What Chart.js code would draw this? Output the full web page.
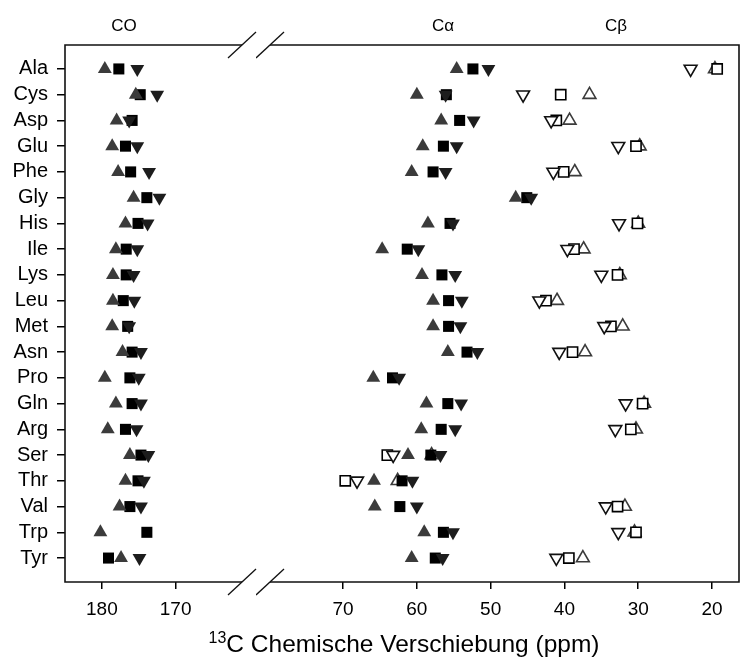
<!DOCTYPE html>
<html>
<head>
<meta charset="utf-8">
<script src="https://cdn.jsdelivr.net/npm/chart.js@4"></script>
<style>
  html, body { margin: 0; padding: 0; background: #fff; }
  #wrap { position: relative; width: 740px; height: 670px; overflow: hidden; }
  #cl { position: absolute; left: 0; top: 0; }
  #cr { position: absolute; left: 256px; top: 0; }
</style>
</head>
<body>
<div id="wrap">
  <canvas id="cl" width="740" height="670"></canvas>
  <canvas id="cr" width="484" height="670"></canvas>
</div>
<script>
// residues, top to bottom
const residues = ["Ala","Cys","Asp","Glu","Phe","Gly","His","Ile","Lys","Leu",
                  "Met","Asn","Pro","Gln","Arg","Ser","Thr","Val","Trp","Tyr"];

// CO shifts (ppm)
const coUp   = [179.6,175.4,178.0,178.6,177.8,175.7,176.8,178.1,178.5,178.5,
                178.6,177.2,179.6,178.1,179.2,176.2,176.8,177.6,180.2,177.4];
const coSq   = [177.7,174.8,175.9,176.8,176.1,173.9,175.1,176.7,176.7,177.1,
                176.5,175.9,176.2,175.9,176.8,174.7,175.1,176.2,173.9,179.1];
const coDown = [175.2,172.5,176.3,175.2,173.6,172.2,173.8,175.2,175.7,175.6,
                176.3,174.7,175.0,174.7,175.3,173.7,174.3,174.7,null,174.9];

// C-alpha shifts (ppm)
const caUp   = [54.6,60.0,56.7,59.2,60.7,46.6,58.5,64.7,59.3,57.8,
                57.8,55.8,65.9,58.7,59.4,61.2,65.8,65.7,59.0,60.7];
const caSq   = [52.4,56.0,54.2,56.4,57.8,45.1,55.5,61.3,56.6,55.7,
                55.7,53.2,63.3,55.8,56.7,58.1,62.0,62.3,56.4,57.5];
const caDown = [50.3,56.1,52.3,54.6,56.1,44.5,55.1,59.8,54.8,53.9,
                54.1,51.8,62.4,54.0,54.8,56.8,60.6,60.0,55.1,56.5];

// C-beta shifts (ppm)
const cbUp   = [19.6,36.6,39.3,29.8,38.6,null,30.0,37.4,32.5,41.0,
                32.1,37.2,null,29.2,30.3,58.0,62.6,31.8,30.5,37.5];
const cbSq   = [19.3,40.5,41.1,30.3,40.1,null,30.1,38.7,32.8,42.5,
                33.7,38.9,null,29.4,31.0,64.0,69.7,32.8,30.3,39.4];
const cbDown = [22.9,45.6,41.8,32.7,41.5,null,32.6,39.6,35.0,43.4,
                34.6,40.7,null,31.7,33.1,63.2,68.1,34.4,32.7,41.1];

const ticksCO    = [180, 170];
const ticksShift = [70, 60, 50, 40, 30, 20];

Chart.defaults.font.family = "'Liberation Sans', Arial, sans-serif";
Chart.defaults.color = "#000";
Chart.defaults.animation = false;

const FONT = "'Liberation Sans', Arial, sans-serif";

function pts(vals) {
  return vals.map((v, i) => v == null ? null : { x: v, y: i }).filter(Boolean);
}

// marker styles
const upFill   = { pointStyle: "triangle", pointRadius: 8, pointBackgroundColor: "#3b3b3b", pointBorderWidth: 0 };
const downFill = { pointStyle: "triangle", pointRotation: 180, pointRadius: 8, pointBackgroundColor: "#1d1d1d", pointBorderWidth: 0 };
const sqFill   = { pointStyle: "rect", pointRadius: 7.8, pointBackgroundColor: "#000", pointBorderWidth: 0 };
const upOpen   = { pointStyle: "triangle", pointRadius: 7.4, pointBackgroundColor: "#fff", pointBorderColor: "#3b3b3b", pointBorderWidth: 1.6 };
const downOpen = { pointStyle: "triangle", pointRotation: 180, pointRadius: 7.4, pointBackgroundColor: "#fff", pointBorderColor: "#111", pointBorderWidth: 1.6 };
const sqOpen   = { pointStyle: "rect", pointRadius: 7.2, pointBackgroundColor: "#fff", pointBorderColor: "#000", pointBorderWidth: 1.6 };

function ds(vals, style) {
  return Object.assign({ data: pts(vals), showLine: false, pointHoverRadius: style.pointRadius }, style);
}

function slash(ctx, x, y) {
  ctx.beginPath();
  ctx.moveTo(x - 14, y + 13);
  ctx.lineTo(x + 14, y - 13);
  ctx.stroke();
}

const yScale = (show) => ({
  type: "linear", min: -0.93, max: 19.93, reverse: true, display: show,
  afterBuildTicks: s => { s.ticks = residues.map((_, i) => ({ value: i })); },
  afterFit: s => { s.width = show ? 65 : 0; },
  ticks: { callback: v => residues[v], font: { size: 20 }, padding: 9, autoSkip: false },
  grid: { drawOnChartArea: false, tickLength: 8, color: "#000", lineWidth: 1.5 },
  border: { display: false }
});

const xScale = (min, max, list) => ({
  type: "linear", min: min, max: max, reverse: true,
  afterBuildTicks: s => { s.ticks = list.map(v => ({ value: v })); },
  afterFit: s => { s.height = 50; s.paddingLeft = 0; s.paddingRight = 0; },
  ticks: { font: { size: 19 }, padding: 9, maxRotation: 0 },
  grid: { drawOnChartArea: false, tickLength: 7, color: "#000", lineWidth: 1.5 },
  border: { display: false }
});

// frame + break marks + texts for the left (full-width) canvas
const leftDeco = {
  id: "leftDeco",
  afterDraw(c) {
    const { ctx, chartArea: a } = c;
    ctx.save();
    ctx.strokeStyle = "#111";
    ctx.lineWidth = 1.6;
    ctx.beginPath();
    ctx.moveTo(a.right, a.top);
    ctx.lineTo(a.left, a.top);
    ctx.lineTo(a.left, a.bottom);
    ctx.lineTo(a.right, a.bottom);
    ctx.stroke();
    ctx.lineWidth = 1.3;
    slash(ctx, a.right, a.top);
    slash(ctx, a.right, a.bottom);

    ctx.fillStyle = "#000";
    ctx.textAlign = "center";
    ctx.textBaseline = "middle";
    ctx.font = "17px " + FONT;
    ctx.fillText("CO", 124, 26);
    ctx.fillText("C\u03B1", 443, 26);
    ctx.fillText("C\u03B2", 616, 26);

    // axis title with superscript
    const main = "C Chemische Verschiebung (ppm)";
    ctx.textBaseline = "alphabetic";
    ctx.textAlign = "left";
    ctx.font = "24.5px " + FONT;
    const wMain = ctx.measureText(main).width;
    ctx.font = "16px " + FONT;
    const wSup = ctx.measureText("13").width;
    const x0 = 404 - (wMain + wSup) / 2;
    ctx.fillText("13", x0, 643);
    ctx.font = "24.5px " + FONT;
    ctx.fillText(main, x0 + wSup, 652);
    ctx.restore();
  }
};

const rightDeco = {
  id: "rightDeco",
  afterDraw(c) {
    const { ctx, chartArea: a } = c;
    ctx.save();
    ctx.strokeStyle = "#111";
    ctx.lineWidth = 1.6;
    ctx.beginPath();
    ctx.moveTo(a.left, a.top);
    ctx.lineTo(a.right, a.top);
    ctx.lineTo(a.right, a.bottom);
    ctx.lineTo(a.left, a.bottom);
    ctx.stroke();
    ctx.lineWidth = 1.3;
    slash(ctx, a.left, a.top);
    slash(ctx, a.left, a.bottom);
    ctx.restore();
  }
};

new Chart(document.getElementById("cl"), {
  type: "scatter",
  data: {
    datasets: [ds(coUp, upFill), ds(coDown, downFill), ds(coSq, sqFill)]
  },
  options: {
    responsive: false,
    layout: { autoPadding: false, padding: { left: 0, top: 45, right: 498, bottom: 38 } },
    plugins: { legend: { display: false }, tooltip: { enabled: false } },
    scales: { x: xScale(161, 185, ticksCO), y: yScale(true) }
  },
  plugins: [leftDeco]
});

new Chart(document.getElementById("cr"), {
  type: "scatter",
  data: {
    datasets: [
      ds(caUp, upFill), ds(caDown, downFill), ds(caSq, sqFill),
      ds(cbDown, downOpen), ds(cbSq, sqOpen), ds(cbUp, upOpen)
    ]
  },
  options: {
    responsive: false,
    layout: { autoPadding: false, padding: { left: 14, top: 45, right: 1, bottom: 38 } },
    plugins: { legend: { display: false }, tooltip: { enabled: false } },
    scales: { x: xScale(16.34, 79.9, ticksShift), y: yScale(false) }
  },
  plugins: [rightDeco]
});
</script>
</body>
</html>
